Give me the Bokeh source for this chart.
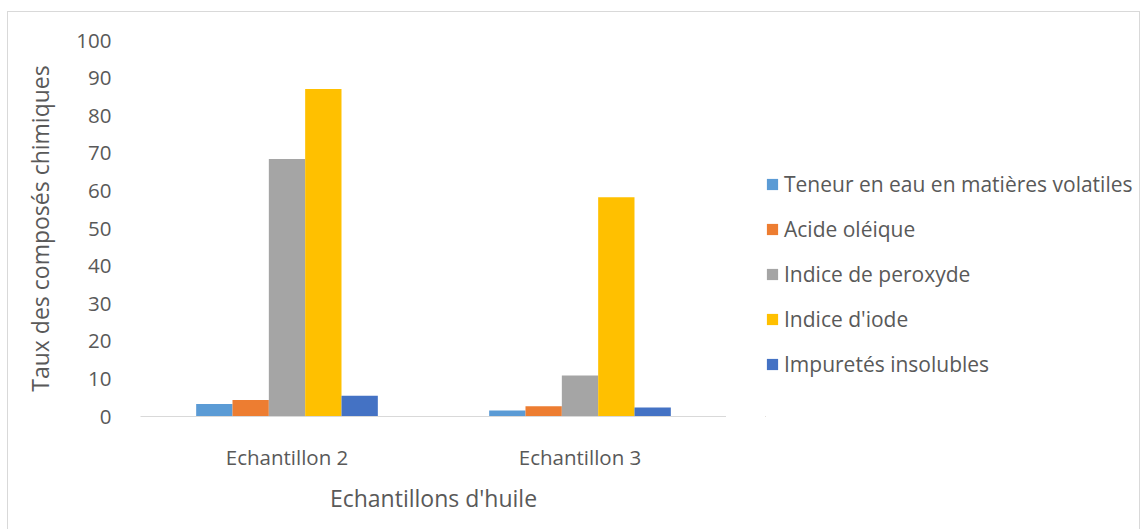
from bokeh.plotting import figure
from bokeh.layouts import row
from bokeh.models import FactorRange, Range1d, ColumnDataSource, Legend, LegendItem, FixedTicker
from bokeh.transform import dodge
from bokeh.embed import file_html
from bokeh.resources import INLINE

categories = ["Echantillon 2", "Echantillon 3"]
series_names = ["Teneur en eau en matières volatiles", "Acide oléique",
                "Indice de peroxyde", "Indice d'iode", "Impuretés insolubles"]
teneur_eau = [3.3, 1.6]
acide_oleique = [4.4, 2.7]
indice_peroxyde = [68.5, 10.9]
indice_iode = [87.1, 58.3]
impuretes = [5.5, 2.4]
y_ticks = [0, 10, 20, 30, 40, 50, 60, 70, 80, 90, 100]
colors = ["#5B9BD5", "#ED7D31", "#A5A5A5", "#FFC000", "#4472C4"]

FONT = "Open Sans"
TXT = "#595959"

source = ColumnDataSource(dict(cat=categories, s0=teneur_eau, s1=acide_oleique,
                               s2=indice_peroxyde, s3=indice_iode, s4=impuretes))

H = 517
p = figure(width=718, height=H, x_range=FactorRange(*categories), y_range=Range1d(0, 100),
           output_backend="svg", toolbar_location=None,
           min_border_left=132, min_border_right=0, min_border_top=28, min_border_bottom=113)
p.outline_line_color = None
p.xgrid.grid_line_color = None
p.ygrid.grid_line_color = None

bw = 0.124
for i in range(5):
    p.vbar(x=dodge("cat", (i - 2) * bw, range=p.x_range), top="s%d" % i, width=bw,
           source=source, fill_color=colors[i], line_color=None)

# y axis
p.yaxis.ticker = FixedTicker(ticks=y_ticks)
p.yaxis.axis_line_color = None
p.yaxis.major_tick_line_color = None
p.yaxis.minor_tick_line_color = None
p.yaxis.major_label_standoff = 23
p.yaxis.major_label_text_font = FONT
p.yaxis.major_label_text_font_size = "20.5px"
p.yaxis.major_label_text_color = TXT
p.yaxis.axis_label = "Taux des composés chimiques"
p.yaxis.axis_label_text_font = FONT
p.yaxis.axis_label_text_font_size = "23px"
p.yaxis.axis_label_text_font_style = "normal"
p.yaxis.axis_label_text_color = TXT
p.yaxis.axis_label_standoff = 17

# x axis
p.xaxis.axis_line_color = "#d9d9d9"
p.xaxis.axis_line_width = 1
p.xaxis.major_tick_line_color = None
p.xaxis.minor_tick_line_color = None
p.xaxis.major_label_standoff = 20
p.xaxis.major_label_text_font = FONT
p.xaxis.major_label_text_font_size = "20.5px"
p.xaxis.major_label_text_color = TXT
p.xaxis.axis_label = "Echantillons d'huile"
p.xaxis.axis_label_text_font = FONT
p.xaxis.axis_label_text_font_size = "23px"
p.xaxis.axis_label_text_font_style = "normal"
p.xaxis.axis_label_text_color = TXT
p.xaxis.axis_label_standoff = 8

# legend panel
lp = figure(width=413, height=H, x_range=Range1d(0, 1), y_range=Range1d(0, 1),
            output_backend="svg", toolbar_location=None,
            min_border_left=39, min_border_right=0, min_border_top=28, min_border_bottom=113)
lp.axis.visible = False
lp.grid.visible = False
lp.outline_line_color = None
hidden = ColumnDataSource(dict(x=[-10], top=[-10], bottom=[-20]))
items = []
for i in range(5):
    r = lp.vbar(x="x", top="top", bottom="bottom", width=0.1, source=hidden,
                fill_color=colors[i], line_color=None)
    items.append(LegendItem(label=series_names[i], renderers=[r]))

legend = Legend(items=items, location=(0, 38), orientation="vertical")
legend.border_line_color = None
legend.background_fill_alpha = 0
legend.padding = 0
legend.margin = 0
legend.glyph_width = 14
legend.glyph_height = 14
legend.label_height = 28
legend.spacing = 17
legend.label_standoff = 5
legend.label_text_font = FONT
legend.label_text_font_size = "21px"
legend.label_text_color = TXT
lp.add_layout(legend, "center")

layout = row(p, lp, margin=(11, 0, 0, 7), styles={"border": "1px solid #d9d9d9"})

open("out.html", "w").write(file_html(layout, INLINE))
